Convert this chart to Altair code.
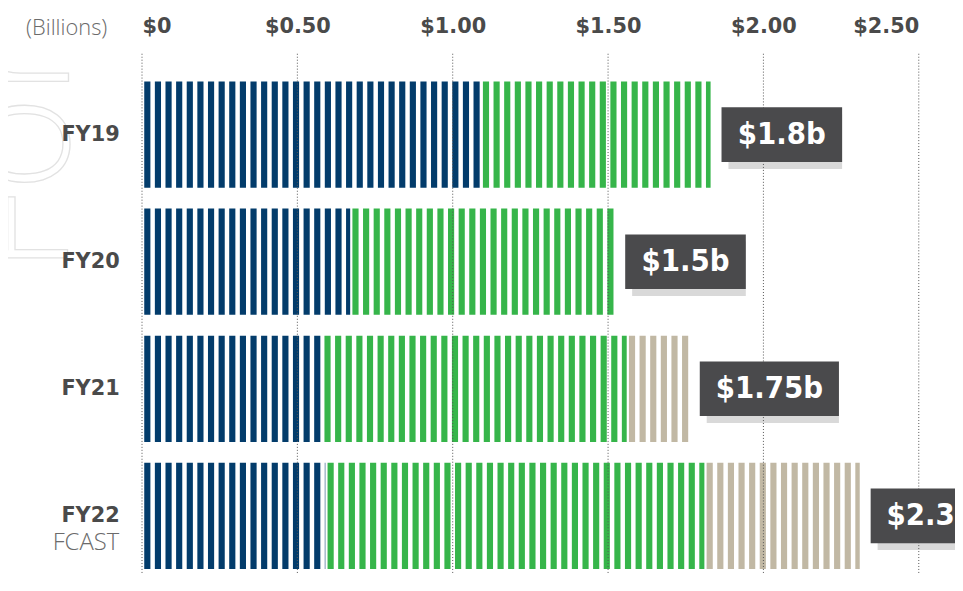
import altair as alt
import pandas as pd

# ---- data ----
years = ["FY19", "FY20", "FY21", "FY22"]
seg_names = ["Part 1", "Part 2", "Part 3"]
part1_vals = [1.09, 0.67, 0.58, 0.59]
part2_vals = [0.74, 0.85, 0.98, 1.22]
part3_vals = [0.0, 0.0, 0.20, 0.50]
total_labels = ["$1.8b", "$1.5b", "$1.75b", "$2.37b"]
sub_labels = ["", "", "", "FCAST"]
x_ticks = [0, 0.5, 1.0, 1.5, 2.0, 2.5]
unit_text = ["(Billions)"]
watermark_text = ["For"]

seg_colors = ["#033c6b", "#36b54a", "#c1b8a4"]

# ---- layout constants (style) ----
W = 782.5           # plot width
H = 524             # plot height
PX_PER_UNIT = W / 2.5
DASH, GAP = 6.2, 4.5

# build tables
rows = []
for i, fy in enumerate(years):
    start = 0.0
    for name, vals in zip(seg_names, [part1_vals, part2_vals, part3_vals]):
        v = vals[i]
        if v > 0:
            rows.append({"fy": fy, "seg": name, "start": start, "end": start + v})
        start += v
seg_df = pd.DataFrame(rows)

tot_df = pd.DataFrame({
    "fy": years,
    "total": [a + b + c for a, b, c in zip(part1_vals, part2_vals, part3_vals)],
    "label": total_labels,
    "sub": sub_labels,
})
tick_df = pd.DataFrame({"tick": x_ticks})

xscale = alt.Scale(domain=[0, 2.5], nice=False, zero=True)
yscale = alt.Scale(domain=years, range=[28, 519], paddingInner=0.164, paddingOuter=0)

x_axis = alt.Axis(
    orient="top", values=x_ticks, title=None, domain=False, ticks=False, tickSize=0,
    grid=False, labelFont="DejaVu Sans", labelFontWeight="bold", labelFontSize=21,
    labelColor="#4a4a4a", labelPadding=27, labelBaseline="middle",
    labelExpr="datum.value == 0 ? '$0' : '$' + format(datum.value, '.2f')",
)
y_axis = alt.Axis(
    title=None, domain=False, ticks=False, tickSize=0, grid=False,
    labelFont="DejaVu Sans", labelFontWeight="bold", labelFontSize=21,
    labelColor="#4a4a4a", labelPadding=23, labelLineHeight=16, zindex=1,
    labelExpr="datum.label == 'FY22' ? ['FY22', ''] : datum.label",
)

Y = alt.Y("fy:N", scale=yscale)

watermark = alt.Chart(pd.DataFrame({"t": watermark_text})).mark_text(
    angle=270, align="left", baseline="alphabetic", font="Open Sans",
    fontSize=165, fontWeight=300, fillOpacity=0, stroke="#e2e2e2", strokeWidth=1.3,
).encode(text="t:N", x=alt.value(-75), y=alt.value(222))

bars = alt.Chart(seg_df).mark_rule(
    strokeWidth=107, strokeDash=[DASH, GAP], strokeDashOffset=DASH + GAP / 2,
    strokeCap="butt",
).encode(
    x=alt.X("start:Q", scale=xscale, axis=x_axis),
    x2="end:Q",
    y=alt.Y("fy:N", scale=yscale, axis=y_axis),
    color=alt.Color("seg:N", scale=alt.Scale(domain=seg_names, range=seg_colors), legend=None),
)

box_base = alt.Chart(tot_df).transform_calculate(
    bx1=f"datum.total + 11 / {PX_PER_UNIT}",
).transform_calculate(
    bx2=f"datum.bx1 + (28 + 18.7 * length(datum.label)) / {PX_PER_UNIT}",
).transform_calculate(
    bcx="(datum.bx1 + datum.bx2) / 2",
)

shadow = box_base.mark_rule(
    strokeWidth=55, strokeCap="butt", color="#d9d9d9", xOffset=7, yOffset=7
).encode(x=alt.X("bx1:Q", scale=xscale), x2="bx2:Q", y=Y)

grid = alt.Chart(tick_df).mark_rule(
    color="#555555", strokeWidth=1, strokeDash=[1, 2]
).encode(x=alt.X("tick:Q", scale=xscale))

box = box_base.mark_rule(
    strokeWidth=55, strokeCap="butt", color="#4a4a4c"
).encode(x=alt.X("bx1:Q", scale=xscale), x2="bx2:Q", y=Y)

box_text = box_base.mark_text(
    font="DejaVu Sans Condensed, DejaVu Sans", fontWeight="bold", fontSize=31,
    color="white", align="center", baseline="middle", dy=0,
).encode(x=alt.X("bcx:Q", scale=xscale), y=Y, text="label:N")

sub_text = alt.Chart(tot_df).mark_text(
    font="Open Sans", fontSize=24, fontWeight=300, color="#6b6b6b",
    align="right", baseline="middle", dy=27,
).encode(x=alt.value(-23), y=Y, text="sub:N")

unit = alt.Chart(pd.DataFrame({"t": unit_text})).mark_text(
    font="Open Sans", fontSize=22, fontWeight=300, color="#6b6b6b",
    align="right", baseline="middle",
).encode(text="t:N", x=alt.value(-35), y=alt.value(-26))

chart = alt.layer(
    watermark, bars, shadow, grid, box, box_text, sub_text, unit
).properties(
    width=W, height=H,
    autosize=alt.AutoSizeParams(type="none"),
    padding={"left": 135, "top": 44, "right": 36.5, "bottom": 0},
    background="white",
).configure_view(stroke=None)

chart.save("out.html", embed_options={"renderer": "svg", "actions": False})
